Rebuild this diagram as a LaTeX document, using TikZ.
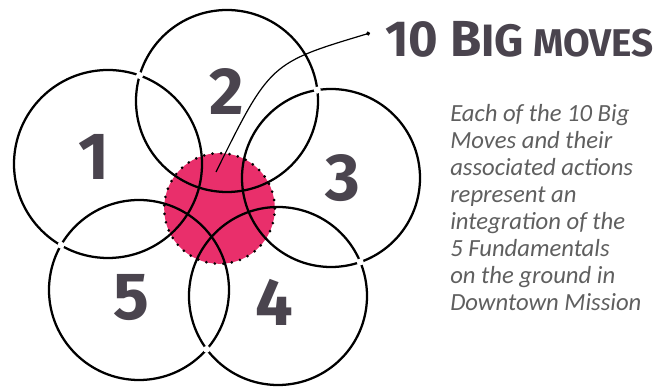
\documentclass[tikz,border=0pt]{standalone}
\usepackage{fontspec}
\setsansfont{Fira Sans}
\newfontfamily\notefont{Carlito}
\usetikzlibrary{arrows.meta}
\definecolor{corepink}{RGB}{233,47,107}
\definecolor{inkgray}{RGB}{74,68,78}
\definecolor{notegray}{RGB}{95,95,95}

\begin{document}
\begin{tikzpicture}[
    x=0.75pt, y=0.75pt,
    petal/.style={circle, draw, line width=1.7pt, inner sep=0pt},
    digit/.style={font=\sffamily\bfseries\fontsize{50}{50}\selectfont, text=inkgray},
    core/.style={circle, fill=corepink, draw, line width=2.2pt, line cap=round, dash pattern=on 0pt off 6.4pt, inner sep=0pt, minimum size=83pt},
    headline/.style={font=\sffamily\bfseries, text=inkgray, inner sep=0pt},
    note/.style={font=\notefont\itshape\fontsize{18.5}{20.3}\selectfont, text=notegray, align=left, inner sep=0pt},
    leader/.style={-{Circle[length=3pt]}, line width=0.9pt},
    gap/.style={fill=white}
]
    \useasboundingbox (0,0) rectangle (657,388);

    % pink centre where the five circles overlap
    \node[core] (hub) at (219.5,179.5) {};

    % the five circles
    \node[petal, minimum size=141pt] (c1) at (108,224) {};
    \node[petal, minimum size=136.5pt] (c2) at (227,287) {};
    \node[petal, minimum size=133.5pt] (c3) at (331,210) {};
    \node[petal, minimum size=133.5pt] (c4) at (278,92) {};
    \node[petal, minimum size=135pt] (c5) at (139,98) {};

    % small breaks where neighbouring circles cross on the outside
    \coordinate (x12) at (139.6,312.5);
    \coordinate (x23) at (317.3,297.9);
    \coordinate (x34) at (360.2,126);
    \coordinate (x45) at (206.7,38.7);
    \coordinate (x51) at (61,142.8);
    \fill[gap] (x12) circle (3.5) (x23) circle (3.5) (x34) circle (3.5)
        (x45) circle (3.5) (x51) circle (3.5);

    \node[digit] (n1) at (94,231) {1};
    \node[digit] (n2) at (227,296) {2};
    \node[digit] (n3) at (343,210) {3};
    \node[digit] (n4) at (274,86) {4};
    \node[digit] (n5) at (131,90) {5};

    % headline and its pointer into the centre
    \node[headline, anchor=base west] (moves) at (385,331)
        {{\fontsize{38}{38}\selectfont 10 B}{\fontsize{34}{34}\selectfont IG}{\fontsize{29}{29}\selectfont\ MOVES}};
    \coordinate (pin) at (216,216);
    \coordinate (tip) at (370,355);
    \draw[leader] (pin) .. controls (270,325) .. (tip);

    \node[note, anchor=north west] (caption) at (450,284)
        {Each of the 10 Big\\Moves and their\\associated actions\\represent an\\integration of the\\5 Fundamentals\\on the ground in\\Downtown Mission};
\end{tikzpicture}
\end{document}
